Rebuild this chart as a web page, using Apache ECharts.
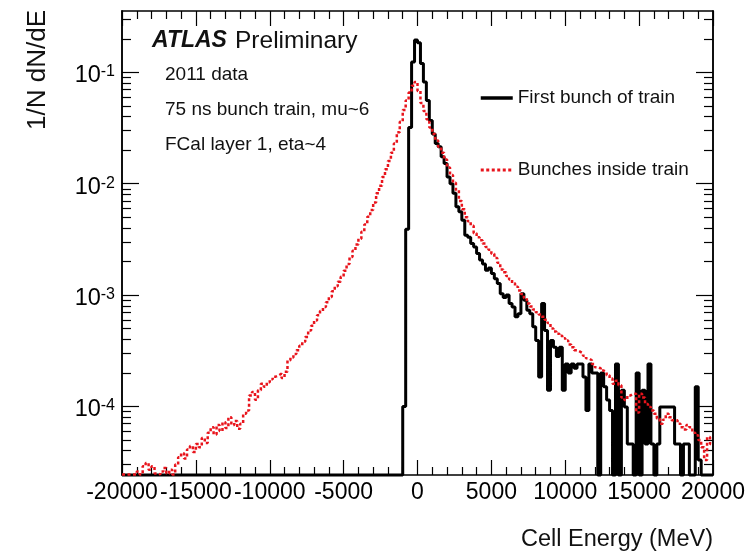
<!DOCTYPE html>
<html>
<head>
<meta charset="utf-8">
<script src="https://cdn.jsdelivr.net/npm/echarts@6/dist/echarts.min.js"></script>
<style>
html,body{margin:0;padding:0;background:#fff;}
#c{width:754px;height:557px;}
</style>
</head>
<body>
<div id="c"></div>
<script>
// ---- data ----
const BIN_START = -20000;
const BIN_WIDTH = 200;
const X_MIN = -20000, X_MAX = 20000, X_INTERVAL = 5000;
const Y_MIN = 2.42e-5, Y_MAX = 0.356;
const Y_MAJOR_TICKS = [1e-4, 1e-3, 1e-2, 1e-1];
const Y_MINOR_TICKS = [3e-5,4e-5,5e-5,6e-5,7e-5,8e-5,9e-5,
  2e-4,3e-4,4e-4,5e-4,6e-4,7e-4,8e-4,9e-4,
  2e-3,3e-3,4e-3,5e-3,6e-3,7e-3,8e-3,9e-3,
  2e-2,3e-2,4e-2,5e-2,6e-2,7e-2,8e-2,9e-2,
  2e-1,3e-1];
const SERIES_NAMES = ['First bunch of train', 'Bunches inside train'];

// First bunch of train (black), 200 bins of 200 MeV from -20000; 0 = empty bin
const firstBunch = [
  0,0,0,0,0,0,0,0,0,0,
  0,0,0,0,0,0,0,0,0,0,
  0,0,0,0,0,0,0,0,0,0,
  0,0,0,0,0,0,0,0,0,0,
  0,0,0,0,0,0,0,0,0,0,
  0,0,0,0,0,0,0,0,0,0,
  0,0,0,0,0,0,0,0,0,0,
  0,0,0,0,0,0,0,0,0,0,
  0,0,0,0,0,0,0,0,0,0,
  0,0,0,0,0,1.0e-4,3.9e-3,3.2e-2,1.24e-1,1.95e-1,
  1.85e-1,1.2e-1,8.2e-2,5.6e-2,3.7e-2,2.8e-2,2.3e-2,2.15e-2,1.75e-2,1.52e-2,
  1.15e-2,1.0e-2,8.2e-3,6.2e-3,5.6e-3,4.7e-3,3.45e-3,3.3e-3,2.9e-3,2.7e-3,
  2.36e-3,2.06e-3,1.9e-3,1.67e-3,1.75e-3,1.56e-3,1.4e-3,1.27e-3,1.03e-3,9.5e-4,
  1.0e-3,8.4e-4,7.8e-4,6.4e-4,6.8e-4,1.03e-3,9.0e-4,7.3e-4,6.8e-4,5.2e-4,
  3.9e-4,1.84e-4,8.4e-4,4.8e-4,1.4e-4,3.9e-4,3.4e-4,2.8e-4,3.4e-4,1.4e-4,
  2.4e-4,2.0e-4,2.4e-4,2.2e-4,2.4e-4,2.4e-4,1.84e-4,9.2e-5,2.4e-4,2.0e-4,
  2.0e-4,0,2.0e-4,1.5e-4,1.14e-4,9.2e-5,0,2.4e-4,0,1.4e-4,
  9.9e-5,4.6e-5,4.6e-5,0,2.0e-4,0,1.4e-4,4.6e-5,2.4e-4,4.6e-5,
  0,4.6e-5,9.9e-5,9.9e-5,9.9e-5,9.9e-5,9.9e-5,4.6e-5,4.6e-5,0,
  4.6e-5,4.6e-5,0,0,1.5e-4,3.3e-5,0,0,0,0
];

// Bunches inside train (red dotted)
const insideTrain = [
  2.45e-5,2.45e-5,2.45e-5,2.45e-5,2.45e-5,2.6e-5,2.45e-5,2.9e-5,3.1e-5,2.7e-5,
  2.9e-5,2.5e-5,2.45e-5,2.6e-5,2.8e-5,2.5e-5,2.7e-5,2.45e-5,3.0e-5,3.5e-5,
  3.8e-5,3.4e-5,4.1e-5,4.4e-5,3.9e-5,4.6e-5,4.3e-5,5.2e-5,4.7e-5,5.8e-5,
  6.5e-5,5.6e-5,6.8e-5,6.0e-5,7.2e-5,6.4e-5,8.0e-5,6.8e-5,7.4e-5,6.3e-5,
  7.0e-5,8.6e-5,9.2e-5,1.25e-4,1.35e-4,1.15e-4,1.4e-4,1.6e-4,1.5e-4,1.65e-4,
  1.75e-4,1.85e-4,1.9e-4,1.97e-4,1.8e-4,2.05e-4,2.6e-4,2.75e-4,2.95e-4,3.2e-4,
  3.5e-4,3.8e-4,4.2e-4,4.8e-4,5.3e-4,5.9e-4,6.6e-4,7.2e-4,7.8e-4,8.6e-4,
  9.6e-4,1.08e-3,1.2e-3,1.32e-3,1.46e-3,1.65e-3,1.9e-3,2.2e-3,2.5e-3,2.85e-3,
  3.2e-3,3.7e-3,4.3e-3,5.05e-3,5.8e-3,6.8e-3,8.2e-3,9.6e-3,1.15e-2,1.35e-2,
  1.6e-2,1.9e-2,2.3e-2,2.9e-2,3.6e-2,4.6e-2,5.6e-2,6.6e-2,7.6e-2,8.2e-2,
  6.8e-2,5.3e-2,4.5e-2,3.8e-2,3.2e-2,2.8e-2,2.45e-2,2.15e-2,1.9e-2,1.65e-2,
  1.4e-2,1.2e-2,1.02e-2,8.8e-3,7.0e-3,5.9e-3,5.0e-3,4.6e-3,4.2e-3,3.6e-3,
  3.3e-3,3.1e-3,2.9e-3,2.7e-3,2.55e-3,2.35e-3,2.15e-3,1.95e-3,1.7e-3,1.6e-3,
  1.48e-3,1.38e-3,1.28e-3,1.19e-3,1.1e-3,1.02e-3,9.4e-4,8.4e-4,7.9e-4,7.4e-4,
  7.0e-4,6.7e-4,6.4e-4,6.0e-4,5.6e-4,5.0e-4,4.7e-4,4.5e-4,4.3e-4,4.1e-4,
  3.9e-4,3.6e-4,3.4e-4,3.2e-4,3.1e-4,3.0e-4,2.85e-4,2.7e-4,2.6e-4,2.4e-4,
  2.25e-4,2.2e-4,2.1e-4,2.04e-4,1.9e-4,1.78e-4,1.6e-4,1.7e-4,1.55e-4,1.2e-4,
  1.14e-4,1.25e-4,1.3e-4,1.3e-4,8.8e-5,1.3e-4,1.2e-4,1.05e-4,9.9e-5,9.2e-5,
  8.6e-5,7.8e-5,7.0e-5,7.6e-5,8.6e-5,8.0e-5,7.5e-5,7.5e-5,7.0e-5,6.5e-5,
  6.2e-5,6.8e-5,6.5e-5,5.8e-5,5.5e-5,5.0e-5,4.3e-5,3.3e-5,5.3e-5,4.6e-5
];

const FONT = 'Liberation Sans, Arial, Helvetica, sans-serif';

// histogram -> step points at bin edges (empty bins drawn on the frame floor, as ROOT does)
function toSteps(vals) {
  const pts = vals.map((v, i) => [BIN_START + i * BIN_WIDTH, v > 0 ? v : Y_MIN]);
  pts.push([BIN_START + vals.length * BIN_WIDTH, pts[pts.length - 1][1]]);
  return pts;
}

function xAx(pos, showLabels) {
  return {
    type: 'value', position: pos, min: X_MIN, max: X_MAX, interval: X_INTERVAL,
    axisLine: { show: true, onZero: false, lineStyle: { color: '#000', width: 1.5 } },
    axisTick: { show: true, inside: true, length: 15, lineStyle: { color: '#000', width: 1.2 } },
    minorTick: { show: true, splitNumber: 5, length: 8, lineStyle: { color: '#000', width: 1.2 } },
    axisLabel: { show: showLabels, fontSize: 23, fontFamily: FONT, color: '#000', margin: 6,
                 showMinLabel: true, showMaxLabel: true, hideOverlap: false,
                 formatter: v => String(v) },
    splitLine: { show: false }, minorSplitLine: { show: false }
  };
}

function yAx(pos, ticks, len, showLabels) {
  return {
    type: 'log', logBase: 10, position: pos, min: Y_MIN, max: Y_MAX,
    axisLine: { show: true, onZero: false, lineStyle: { color: '#000', width: 1.5 } },
    axisTick: { show: true, inside: true, length: len, customValues: ticks,
                lineStyle: { color: '#000', width: 1.2 } },
    axisLabel: showLabels ? {
      show: true, customValues: Y_MAJOR_TICKS, margin: 7, padding: [7, 0, 0, 0],
      formatter: v => '{b|10}{s|' + Math.round(Math.log10(v)) + '}',
      rich: {
        b: { fontSize: 23.5, fontFamily: FONT, color: '#000', lineHeight: 24 },
        s: { fontSize: 16, fontFamily: FONT, color: '#000', verticalAlign: 'top', lineHeight: 16 }
      }
    } : { show: false },
    splitLine: { show: false }, minorTick: { show: false }, minorSplitLine: { show: false }
  };
}

const chart = echarts.init(document.getElementById('c'), null, { renderer: 'canvas' });
chart.setOption({
  animation: false,
  backgroundColor: '#fff',
  grid: { left: 122, right: 41, top: 11, bottom: 82, containLabel: false, outerBoundsMode: 'none' },
  xAxis: [xAx('bottom', true), xAx('top', false)],
  yAxis: [
    yAx('left', Y_MAJOR_TICKS, 17, true),
    yAx('left', Y_MINOR_TICKS, 9, false),
    yAx('right', Y_MAJOR_TICKS, 17, false),
    yAx('right', Y_MINOR_TICKS, 9, false)
  ],
  legend: {
    orient: 'vertical', left: 474, top: 82, itemWidth: 32, itemHeight: 22, itemGap: 50,
    textStyle: { fontSize: 19, fontFamily: FONT, color: '#111', lineHeight: 22 },
    itemStyle: { opacity: 0 },
    data: [
      { name: SERIES_NAMES[0], lineStyle: { width: 3.5 }, itemStyle: { opacity: 0 } },
      { name: SERIES_NAMES[1], lineStyle: { width: 3 }, itemStyle: { opacity: 0 } }
    ]
  },
  graphic: [
    { type: 'text', x: 152, y: 41, style: { text: 'ATLAS', fontSize: 23, fontWeight: 'bold', fontStyle: 'italic', fontFamily: FONT, fill: '#111', align: 'left', verticalAlign: 'middle' } },
    { type: 'text', x: 235, y: 41, style: { text: 'Preliminary', fontSize: 24.5, fontFamily: FONT, fill: '#111', align: 'left', verticalAlign: 'middle' } },
    { type: 'text', x: 165, y: 75, style: { text: '2011 data', fontSize: 19, fontFamily: FONT, fill: '#111', align: 'left', verticalAlign: 'middle' } },
    { type: 'text', x: 165, y: 110, style: { text: '75 ns bunch train, mu~6', fontSize: 19, fontFamily: FONT, fill: '#111', align: 'left', verticalAlign: 'middle' } },
    { type: 'text', x: 165, y: 145, style: { text: 'FCal layer 1, eta~4', fontSize: 19, fontFamily: FONT, fill: '#111', align: 'left', verticalAlign: 'middle' } },
    { type: 'text', x: 38, y: 10, rotation: Math.PI / 2, style: { text: '1/N dN/dE', fontSize: 26, fontFamily: FONT, fill: '#111', align: 'right', verticalAlign: 'middle' } },
    { type: 'text', x: 713, y: 540, style: { text: 'Cell Energy (MeV)', fontSize: 23.5, fontFamily: FONT, fill: '#111', align: 'right', verticalAlign: 'middle' } }
  ],
  series: [
    {
      name: SERIES_NAMES[0], type: 'line', xAxisIndex: 0, yAxisIndex: 0, clip: false,
      data: toSteps(firstBunch), step: 'end', symbol: 'none', showSymbol: false,
      lineStyle: { color: '#000', width: 3 }, itemStyle: { color: '#000' }, z: 3
    },
    {
      name: SERIES_NAMES[1], type: 'line', xAxisIndex: 0, yAxisIndex: 0, clip: false,
      data: toSteps(insideTrain), step: 'end', symbol: 'none', showSymbol: false,
      lineStyle: { color: '#e8141c', width: 2.5, type: [3, 2.5] }, itemStyle: { color: '#e8141c' }, z: 4
    }
  ]
});
</script>
</body>
</html>
